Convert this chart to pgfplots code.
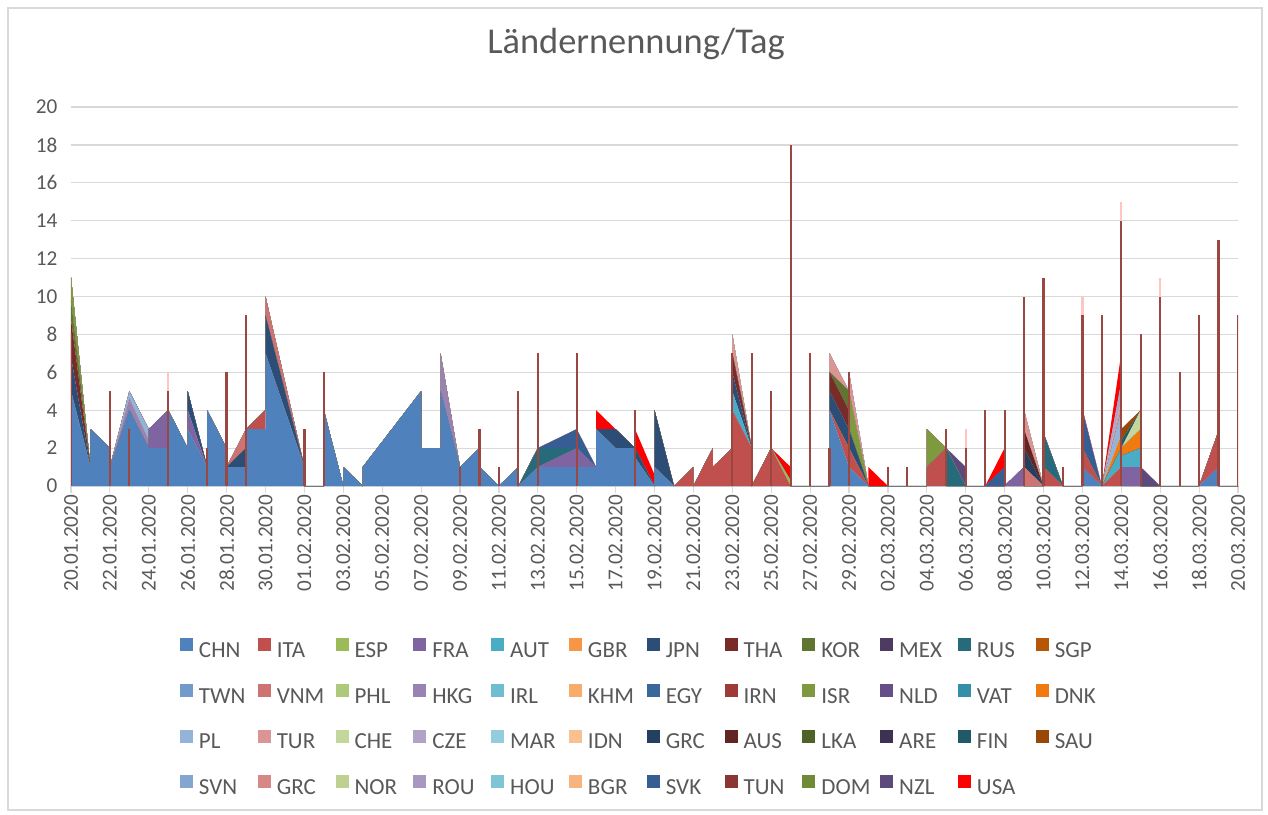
\documentclass[border=0pt]{standalone}
\usepackage{fontspec}
\setmainfont{Carlito}
\usepackage{pgfplots}
\usepackage{pgfplotstable}
\pgfplotsset{compat=1.18}
\definecolor{txt}{HTML}{595959}
\definecolor{gridc}{HTML}{D9D9D9}
\definecolor{cSpike}{HTML}{9A4742}
\definecolor{cPink}{HTML}{FFC4C4}
\definecolor{cCHN}{HTML}{4F81BD}\definecolor{cITA}{HTML}{C0504D}\definecolor{cESP}{HTML}{9BBB59}
\definecolor{cFRA}{HTML}{8064A2}\definecolor{cAUT}{HTML}{4BACC6}\definecolor{cGBR}{HTML}{F79646}
\definecolor{cJPN}{HTML}{2C4D75}\definecolor{cTHA}{HTML}{772C2A}\definecolor{cKOR}{HTML}{5F7530}
\definecolor{cMEX}{HTML}{4D3B62}\definecolor{cRUS}{HTML}{276A7C}\definecolor{cSGP}{HTML}{B65708}
\definecolor{cTWN}{HTML}{729ACA}\definecolor{cVNM}{HTML}{CD7371}\definecolor{cPHL}{HTML}{AFC97A}
\definecolor{cHKG}{HTML}{9983B5}\definecolor{cIRL}{HTML}{6FBDD1}\definecolor{cKHM}{HTML}{F9AB6B}
\definecolor{cEGY}{HTML}{3A679C}\definecolor{cIRN}{HTML}{9E3B39}\definecolor{cISR}{HTML}{7F9A3E}
\definecolor{cNLD}{HTML}{664E86}\definecolor{cVAT}{HTML}{348FA9}\definecolor{cDNK}{HTML}{F07A10}
\definecolor{cPL}{HTML}{95B3D7}\definecolor{cTUR}{HTML}{D99694}\definecolor{cCHE}{HTML}{C3D69B}
\definecolor{cCZE}{HTML}{B3A2C7}\definecolor{cMAR}{HTML}{93CDDD}\definecolor{cIDN}{HTML}{FAC090}
\definecolor{cGRC}{HTML}{243F60}\definecolor{cAUS}{HTML}{632523}\definecolor{cLKA}{HTML}{4F6228}
\definecolor{cARE}{HTML}{3F3151}\definecolor{cFIN}{HTML}{215968}\definecolor{cSAU}{HTML}{984807}
\definecolor{cSVN}{HTML}{84A5D0}\definecolor{cGRCb}{HTML}{D78785}\definecolor{cNOR}{HTML}{BFD190}
\definecolor{cROU}{HTML}{A897C1}\definecolor{cHOU}{HTML}{7EC5D6}\definecolor{cBGR}{HTML}{F8B47F}
\definecolor{cSVK}{HTML}{365E93}\definecolor{cTUN}{HTML}{8B3632}\definecolor{cDOM}{HTML}{6F8B38}
\definecolor{cNZL}{HTML}{5C4A7C}\definecolor{cUSA}{HTML}{FF0000}

\pgfplotstableread{
x  CHN ITA ESP FRA AUT JPN  THA KOR RUS VNM HKG ISR  DNK PL GRC AUS TUR CHE  CZE FIN SAU SVK NZL USA
0  5 0 0 0 0 1.8  2 1 0 0 0 1.2  0 0 0 0 0 0  0 0 0 0 0 0
1  1 0 0 0 0 0  0 0 0 0 0 0  0 0 0 0 0 0  0 0 0 0 0 0
1  3 0 0 0 0 0  0 0 0 0 0 0  0 0 0 0 0 0  0 0 0 0 0 0
2  2 0 0 0 0 0  0 0 0 0 0 0  0 0 0 0 0 0  0 0 0 0 0 0
2  1 0 0 0 0 0  0 0 0 0 0 0  0 0 0 0 0 0  0 0 0 0 0 0
3  4 0 0 0 0 0  0 0 0 0 0.6 0  0 0.4 0 0 0 0  0 0 0 0 0 0
4  2 0 0 0 0 0  0 0 0 0 0.4 0  0 0.6 0 0 0 0  0 0 0 0 0 0
4  2 0 0 1 0 0  0 0 0 0 0 0  0 0 0 0 0 0  0 0 0 0 0 0
5  2 0 0 2 0 0  0 0 0 0 0 0  0 0 0 0 0 0  0 0 0 0 0 0
5  4 0 0 0 0 0  0 0 0 0 0 0  0 0 0 0 0 0  0 0 0 0 0 0
6  2 0 0 0 0 0  0 0 0 0 0 0  0 0 0 0 0 0  0 0 0 0 0 0
6  3 0 0 1 0 1  0 0 0 0 0 0  0 0 0 0 0 0  0 0 0 0 0 0
7  1 0 0 0 0 0  0 0 0 0 0 0  0 0 0 0 0 0  0 0 0 0 0 0
7  4 0 0 0 0 0  0 0 0 0 0 0  0 0 0 0 0 0  0 0 0 0 0 0
8  2 0 0 0 0 0  0 0 0 0 0 0  0 0 0 0 0 0  0 0 0 0 0 0
8  1 0 0 0 0 0  0 0 0 0 0 0  0 0 0 0 0 0  0 0 0 0 0 0
9  1 0 0 0 0 1  0 0 0 1 0 0  0 0 0 0 0 0  0 0 0 0 0 0
9  3 0 0 0 0 0  0 0 0 0 0 0  0 0 0 0 0 0  0 0 0 0 0 0
10 3 1 0 0 0 0  0 0 0 0 0 0  0 0 0 0 0 0  0 0 0 0 0 0
10 7 0 0 0 0 2  0 0 0 1 0 0  0 0 0 0 0 0  0 0 0 0 0 0
12 1 0 0 0 0 0  0 0 0 0 0 0  0 0 0 0 0 0  0 0 0 0 0 0
12 0 0 0 0 0 0  0 0 0 0 0 0  0 0 0 0 0 0  0 0 0 0 0 0
13 0 0 0 0 0 0  0 0 0 0 0 0  0 0 0 0 0 0  0 0 0 0 0 0
13 4 0 0 0 0 0  0 0 0 0 0 0  0 0 0 0 0 0  0 0 0 0 0 0
14 0 0 0 0 0 0  0 0 0 0 0 0  0 0 0 0 0 0  0 0 0 0 0 0
14 1 0 0 0 0 0  0 0 0 0 0 0  0 0 0 0 0 0  0 0 0 0 0 0
15 0 0 0 0 0 0  0 0 0 0 0 0  0 0 0 0 0 0  0 0 0 0 0 0
15 1 0 0 0 0 0  0 0 0 0 0 0  0 0 0 0 0 0  0 0 0 0 0 0
18 5 0 0 0 0 0  0 0 0 0 0 0  0 0 0 0 0 0  0 0 0 0 0 0
18 2 0 0 0 0 0  0 0 0 0 0 0  0 0 0 0 0 0  0 0 0 0 0 0
19 2 0 0 0 0 0  0 0 0 0 0 0  0 0 0 0 0 0  0 0 0 0 0 0
19 5 0 0 0 0 0  0 0 0 0 2 0  0 0 0 0 0 0  0 0 0 0 0 0
20 1 0 0 0 0 0  0 0 0 0 0 0  0 0 0 0 0 0  0 0 0 0 0 0
21 2 0 0 0 0 0  0 0 0 0 0 0  0 0 0 0 0 0  0 0 0 0 0 0
21 1 0 0 0 0 0  0 0 0 0 0 0  0 0 0 0 0 0  0 0 0 0 0 0
22 0 0 0 0 0 0  0 0 0 0 0 0  0 0 0 0 0 0  0 0 0 0 0 0
23 1 0 0 0 0 0  0 0 0 0 0 0  0 0 0 0 0 0  0 0 0 0 0 0
23 0 0 0 0 0 0  0 0 0 0 0 0  0 0 0 0 0 0  0 0 0 0 0 0
24 1 0 0 0 0 0  0 0 1 0 0 0  0 0 0 0 0 0  0 0 0 0 0 0
26 1 0 0 1 0 0  0 0 0 0 0 0  0 0 0 0 0 0  0 0 0 1 0 0
27 1 0 0 0 0 0  0 0 0 0 0 0  0 0 0 0 0 0  0 0 0 0 0 0
27 3 0 0 0 0 0  0 0 0 0 0 0  0 0 0 0 0 0  0 0 0 0 0 1
28 2 0 0 0 0 1  0 0 0 0 0 0  0 0 0 0 0 0  0 0 0 0 0 0
29 2 0 0 0 0 0  0 0 0 0 0 0  0 0 0 0 0 0  0 0 0 0 0 0
29 1.5 0 0 0 0 0.5  0 0 0 0 0 0  0 0 0 0 0 0  0 0 0 0 0 1
30 0 0 0 0 0 0  0 0 0 0 0 0  0 0 0 0 0 0  0 0 0 0 0 0.6
30 1 0 0 0 0 3  0 0 0 0 0 0  0 0 0 0 0 0  0 0 0 0 0 0
31 0 0 0 0 0 0  0 0 0 0 0 0  0 0 0 0 0 0  0 0 0 0 0 0
32 0 1 0 0 0 0  0 0 0 0 0 0  0 0 0 0 0 0  0 0 0 0 0 0
32 0 0 0 0 0 0  0 0 0 0 0 0  0 0 0 0 0 0  0 0 0 0 0 0
33 0 2 0 0 0 0  0 0 0 0 0 0  0 0 0 0 0 0  0 0 0 0 0 0
33 0 1 0 0 0 0  0 0 0 0 0 0  0 0 0 0 0 0  0 0 0 0 0 0
34 0 2 0 0 0 0  0 0 0 0 0 0  0 0 0 0 0 0  0 0 0 0 0 0
34 0 4 0 0 1 1  1 0 0 0 0 0  0 0 0 0 1 0  0 0 0 0 0 0
35 0 2 0 0 0 0  0 0 0 0 0 0  0 0 0 0 0 0  0 0 0 0 0 0
35 0 0 0 0 0 0  0 0 0 0 0 0  0 0 0 0 0 0  0 0 0 0 0 0
36 0 2 0 0 0 0  0 0 0 0 0 0  0 0 0 0 0 0  0 0 0 0 0 0
37 0 0 0.3 0 0 0  0 0 0 0 0 0  0 0 0 0 0 0  0 0 0 0 0 0.7
37 0 0 0 0 0 0  0 0 0 0 0 0  0 0 0 0 0 0  0 0 0 0 0 0
39 0 0 0 0 0 0  0 0 0 0 0 0  0 0 0 0 0 0  0 0 0 0 0 0
39 4 0 0 0 0 1  1 0 0 0 0 0  0 0 0 0 1 0  0 0 0 0 0 0
40 1 1 0 0 0 1  1 1 0 0 0 0  0 0 0 0 0 0  0 0 0 0 0 0
40 1 1 0 0 0 1  0 0 0 0 0 2  0 0 0 0 1 0  0 0 0 0 0 0
41 0 0 0 0 0 0  0 0 0 0 0 0  0 0 0 0 0 0  0 0 0 0 0 0
41 0 0 0 0 0 0  0 0 0 0 0 0  0 0 0 0 0 0  0 0 0 0 0 1
42 0 0 0 0 0 0  0 0 0 0 0 0  0 0 0 0 0 0  0 0 0 0 0 0
44 0 0 0 0 0 0  0 0 0 0 0 0  0 0 0 0 0 0  0 0 0 0 0 0
44 0 1 0 0 0 0  0 0 0 0 0 2  0 0 0 0 0 0  0 0 0 0 0 0
45 0 2 0 0 0 0  0 0 0 0 0 0  0 0 0 0 0 0  0 0 0 0 0 0
45 0 0 0 0 0 0  0 0 2 0 0 0  0 0 0 0 0 0  0 0 0 0 0 0
46 0 0 0 0 0 0  0 0 0 0 0 0  0 0 0 0 0 0  0 0 0 0 1 0
46 0 0 0 0 0 0  0 0 0 0 0 0  0 0 0 0 0 0  0 0 0 0 0 0
47 0 0 0 0 0 0  0 0 0 0 0 0  0 0 0 0 0 0  0 0 0 0 0 0
48 0 0 0 0 0 0  0 0 0 0 0 0  0 0 0 0 0 0  0 0 0 1 0 1
48 0 0 0 0 0 0  0 0 0 0 0 0  0 0 0 0 0 0  0 0 0 0 0 0
49 0 0 0 1 0 0  0 0 0 0 0 0  0 0 0 0 0 0  0 0 0 0 0 0
49 0 0 0 0 0 0  0 0 0 1 0 0  0 0 1 1 1 0  0 0 0 0 0 0
50 0 0 0 0 0 0  0 0 0 0 0 0  0 0 0 0 0 0  0 0 0 0 0 0
50 0 1 0 0 0 0  0 0 1.8 0 0 0  0 0 0 0 0 0  0 0 0 0 0 0
51 0 0 0 0 0 0  0 0 0 0 0 0  0 0 0 0 0 0  0 0 0 0 0 0
52 0 0 0 0 0 0  0 0 0 0 0 0  0 0 0 0 0 0  0 0 0 0 0 0
52 1 1 0 0 0 0  0 0 0 0 0 0  0 0 0 0 0 0  0 0 0 2 0 0.1
53 0 0 0 0 0 0  0 0 0 0 0 0  0 0 0 0 0 0  0 0 0 0 0 0
54 0 1 0 0 1 0  0 0 0 0 0 0  0.7 1.3 0 0 0.5 0  1 0 0 0 0 1.5
54 0 0 0 1 0.6 0  0 0 0 0 0 0  0.4 0 0 0 0 0  0 0.4 0.6 0 0 0
55 0 0 0 1 1 0  0 0 0 0 0 0  1 0 0 0 0 1  0 0 0 0 0 0
55 0 0 0 0 0 0  0 0 0 0 0 0  0 0 0 0 0 0  0 0 0 0 1 0
56 0 0 0 0 0 0  0 0 0 0 0 0  0 0 0 0 0 0  0 0 0 0 0 0
58 0 0 0 0 0 0  0 0 0 0 0 0  0 0 0 0 0 0  0 0 0 0 0 0
59 1 1.9 0 0 0 0  0 0 0 0 0 0  0 0 0 0 0 0  0 0 0 0 0 0
59 0 0 0 0 0 0  0 0 0 0 0 0  0 0 0 0 0 0  0 0 0 0 0 0
60 0 0 0 0 0 0  0 0 0 0 0 0  0 0 0 0 0 0  0 0 0 0 0 0
}\areadata

\pgfplotstableread{
x y
0 8
2 5
3 3
5 5
7 2
8 6
9 9
12 3
13 6
20 1
21 3
22 1
23 5
24 7
26 7
29 4
34 7
35 7
36 5
37 18
38 7
39 2
40 6
42 1
43 1
45 3
46 2
47 4
48 4
49 10
50 11
51 1
52 9
53 9
54 14
55 8
56 10
57 6
58 9
59 13
60 9
}\spikes

\pgfplotstableread{
x y
5 6
46 3
52 10
54 15
56 11
}\pinkspikes

\begin{document}
\begin{tikzpicture}
\useasboundingbox (-35.5pt,-164pt) rectangle (598.5pt,243pt);
\draw[gridc, line width=0.6pt] (-31.5pt,-162pt) rectangle (595.5pt,239pt);
\begin{axis}[
  at={(0pt,0pt)}, anchor=south west,
  scale only axis, width=583.5pt, height=189.5pt,
  xmin=0, xmax=60, ymin=0, ymax=20,
  stack plots=y,
  axis x line*=bottom, axis y line*=left,
  y axis line style={draw=none},
  x axis line style={draw=gridc, line width=0.7pt, -},
  ytick={0,2,...,20},
  ymajorgrids, grid style={draw=gridc, line width=0.6pt},
  ytick style={draw=none},
  xtick={0,2,...,60},
  xticklabels={20.01.2020,22.01.2020,24.01.2020,26.01.2020,28.01.2020,30.01.2020,01.02.2020,03.02.2020,05.02.2020,07.02.2020,09.02.2020,11.02.2020,13.02.2020,15.02.2020,17.02.2020,19.02.2020,21.02.2020,23.02.2020,25.02.2020,27.02.2020,29.02.2020,02.03.2020,04.03.2020,06.03.2020,08.03.2020,10.03.2020,12.03.2020,14.03.2020,16.03.2020,18.03.2020,20.03.2020},
  tick align=outside, major tick length=3.3pt,
  xtick style={draw=gridc, line width=0.6pt},
  ticklabel style={font=\fontsize{10.6}{12}\selectfont, text=txt},
  xticklabel style={rotate=90, anchor=east, inner sep=1pt},
  yticklabel style={anchor=east},
  /pgf/number format/assume math mode=true,
  title={Ländernennung/Tag},
  title style={at={(0.4842,1.1082)}, anchor=base, font=\fontsize{18.2}{22}\selectfont, text=txt},
  legend columns=12, legend cell align=left,
  legend image code/.code={\fill[#1] (0pt,0.45pt) rectangle (6.5pt,6.95pt);},
  legend style={at={(0.0934,-0.4013)}, anchor=north west,
    draw=none, fill=none, inner sep=0pt, outer sep=0pt,
    font=\fontsize{11.5}{13}\selectfont, text=txt,
    nodes={inner xsep=3pt, inner ysep=0pt, text width=26.4pt, text height=8pt, text depth=2.5pt, align=left},
    row sep=10.65pt, column sep=0pt},
]
\addplot[fill=cCHN, draw=none, forget plot] table[x=x,y=CHN]{\areadata} \closedcycle;
\addplot[fill=cITA, draw=none, forget plot] table[x=x,y=ITA]{\areadata} \closedcycle;
\addplot[fill=cESP, draw=none, forget plot] table[x=x,y=ESP]{\areadata} \closedcycle;
\addplot[fill=cFRA, draw=none, forget plot] table[x=x,y=FRA]{\areadata} \closedcycle;
\addplot[fill=cAUT, draw=none, forget plot] table[x=x,y=AUT]{\areadata} \closedcycle;
\addplot[fill=cJPN, draw=none, forget plot] table[x=x,y=JPN]{\areadata} \closedcycle;
\addplot[fill=cTHA, draw=none, forget plot] table[x=x,y=THA]{\areadata} \closedcycle;
\addplot[fill=cKOR, draw=none, forget plot] table[x=x,y=KOR]{\areadata} \closedcycle;
\addplot[fill=cRUS, draw=none, forget plot] table[x=x,y=RUS]{\areadata} \closedcycle;
\addplot[fill=cVNM, draw=none, forget plot] table[x=x,y=VNM]{\areadata} \closedcycle;
\addplot[fill=cHKG, draw=none, forget plot] table[x=x,y=HKG]{\areadata} \closedcycle;
\addplot[fill=cISR, draw=none, forget plot] table[x=x,y=ISR]{\areadata} \closedcycle;
\addplot[fill=cDNK, draw=none, forget plot] table[x=x,y=DNK]{\areadata} \closedcycle;
\addplot[fill=cPL, draw=none, forget plot] table[x=x,y=PL]{\areadata} \closedcycle;
\addplot[fill=cGRC, draw=none, forget plot] table[x=x,y=GRC]{\areadata} \closedcycle;
\addplot[fill=cAUS, draw=none, forget plot] table[x=x,y=AUS]{\areadata} \closedcycle;
\addplot[fill=cTUR, draw=none, forget plot] table[x=x,y=TUR]{\areadata} \closedcycle;
\addplot[fill=cCHE, draw=none, forget plot] table[x=x,y=CHE]{\areadata} \closedcycle;
\addplot[fill=cCZE, draw=none, forget plot] table[x=x,y=CZE]{\areadata} \closedcycle;
\addplot[fill=cFIN, draw=none, forget plot] table[x=x,y=FIN]{\areadata} \closedcycle;
\addplot[fill=cSAU, draw=none, forget plot] table[x=x,y=SAU]{\areadata} \closedcycle;
\addplot[fill=cSVK, draw=none, forget plot] table[x=x,y=SVK]{\areadata} \closedcycle;
\addplot[fill=cNZL, draw=none, forget plot] table[x=x,y=NZL]{\areadata} \closedcycle;
\addplot[fill=cUSA, draw=none, forget plot] table[x=x,y=USA]{\areadata} \closedcycle;
\addlegendimage{fill=cCHN,draw=none}\addlegendimage{fill=cITA,draw=none}\addlegendimage{fill=cESP,draw=none}
\addlegendimage{fill=cFRA,draw=none}\addlegendimage{fill=cAUT,draw=none}\addlegendimage{fill=cGBR,draw=none}
\addlegendimage{fill=cJPN,draw=none}\addlegendimage{fill=cTHA,draw=none}\addlegendimage{fill=cKOR,draw=none}
\addlegendimage{fill=cMEX,draw=none}\addlegendimage{fill=cRUS,draw=none}\addlegendimage{fill=cSGP,draw=none}
\addlegendimage{fill=cTWN,draw=none}\addlegendimage{fill=cVNM,draw=none}\addlegendimage{fill=cPHL,draw=none}
\addlegendimage{fill=cHKG,draw=none}\addlegendimage{fill=cIRL,draw=none}\addlegendimage{fill=cKHM,draw=none}
\addlegendimage{fill=cEGY,draw=none}\addlegendimage{fill=cIRN,draw=none}\addlegendimage{fill=cISR,draw=none}
\addlegendimage{fill=cNLD,draw=none}\addlegendimage{fill=cVAT,draw=none}\addlegendimage{fill=cDNK,draw=none}
\addlegendimage{fill=cPL,draw=none}\addlegendimage{fill=cTUR,draw=none}\addlegendimage{fill=cCHE,draw=none}
\addlegendimage{fill=cCZE,draw=none}\addlegendimage{fill=cMAR,draw=none}\addlegendimage{fill=cIDN,draw=none}
\addlegendimage{fill=cGRC,draw=none}\addlegendimage{fill=cAUS,draw=none}\addlegendimage{fill=cLKA,draw=none}
\addlegendimage{fill=cARE,draw=none}\addlegendimage{fill=cFIN,draw=none}\addlegendimage{fill=cSAU,draw=none}
\addlegendimage{fill=cSVN,draw=none}\addlegendimage{fill=cGRCb,draw=none}\addlegendimage{fill=cNOR,draw=none}
\addlegendimage{fill=cROU,draw=none}\addlegendimage{fill=cHOU,draw=none}\addlegendimage{fill=cBGR,draw=none}
\addlegendimage{fill=cSVK,draw=none}\addlegendimage{fill=cTUN,draw=none}\addlegendimage{fill=cDOM,draw=none}
\addlegendimage{fill=cNZL,draw=none}\addlegendimage{fill=cUSA,draw=none}
\legend{CHN,ITA,ESP,FRA,AUT,GBR,JPN,THA,KOR,MEX,RUS,SGP,
TWN,VNM,PHL,HKG,IRL,KHM,EGY,IRN,ISR,NLD,VAT,DNK,
PL,TUR,CHE,CZE,MAR,IDN,GRC,AUS,LKA,ARE,FIN,SAU,
SVN,GRC,NOR,ROU,HOU,BGR,SVK,TUN,DOM,NZL,USA}
\end{axis}
\begin{axis}[
  at={(0pt,0pt)}, anchor=south west,
  scale only axis, width=583.5pt, height=189.5pt,
  xmin=0, xmax=60, ymin=0, ymax=20, hide axis]
\addplot[ycomb, draw=cPink, line width=1.1pt, mark=none] table[x=x,y=y]{\pinkspikes};
\addplot[ycomb, draw=cSpike, line width=1.1pt, mark=none] table[x=x,y=y]{\spikes};
\end{axis}
\end{tikzpicture}
\end{document}
